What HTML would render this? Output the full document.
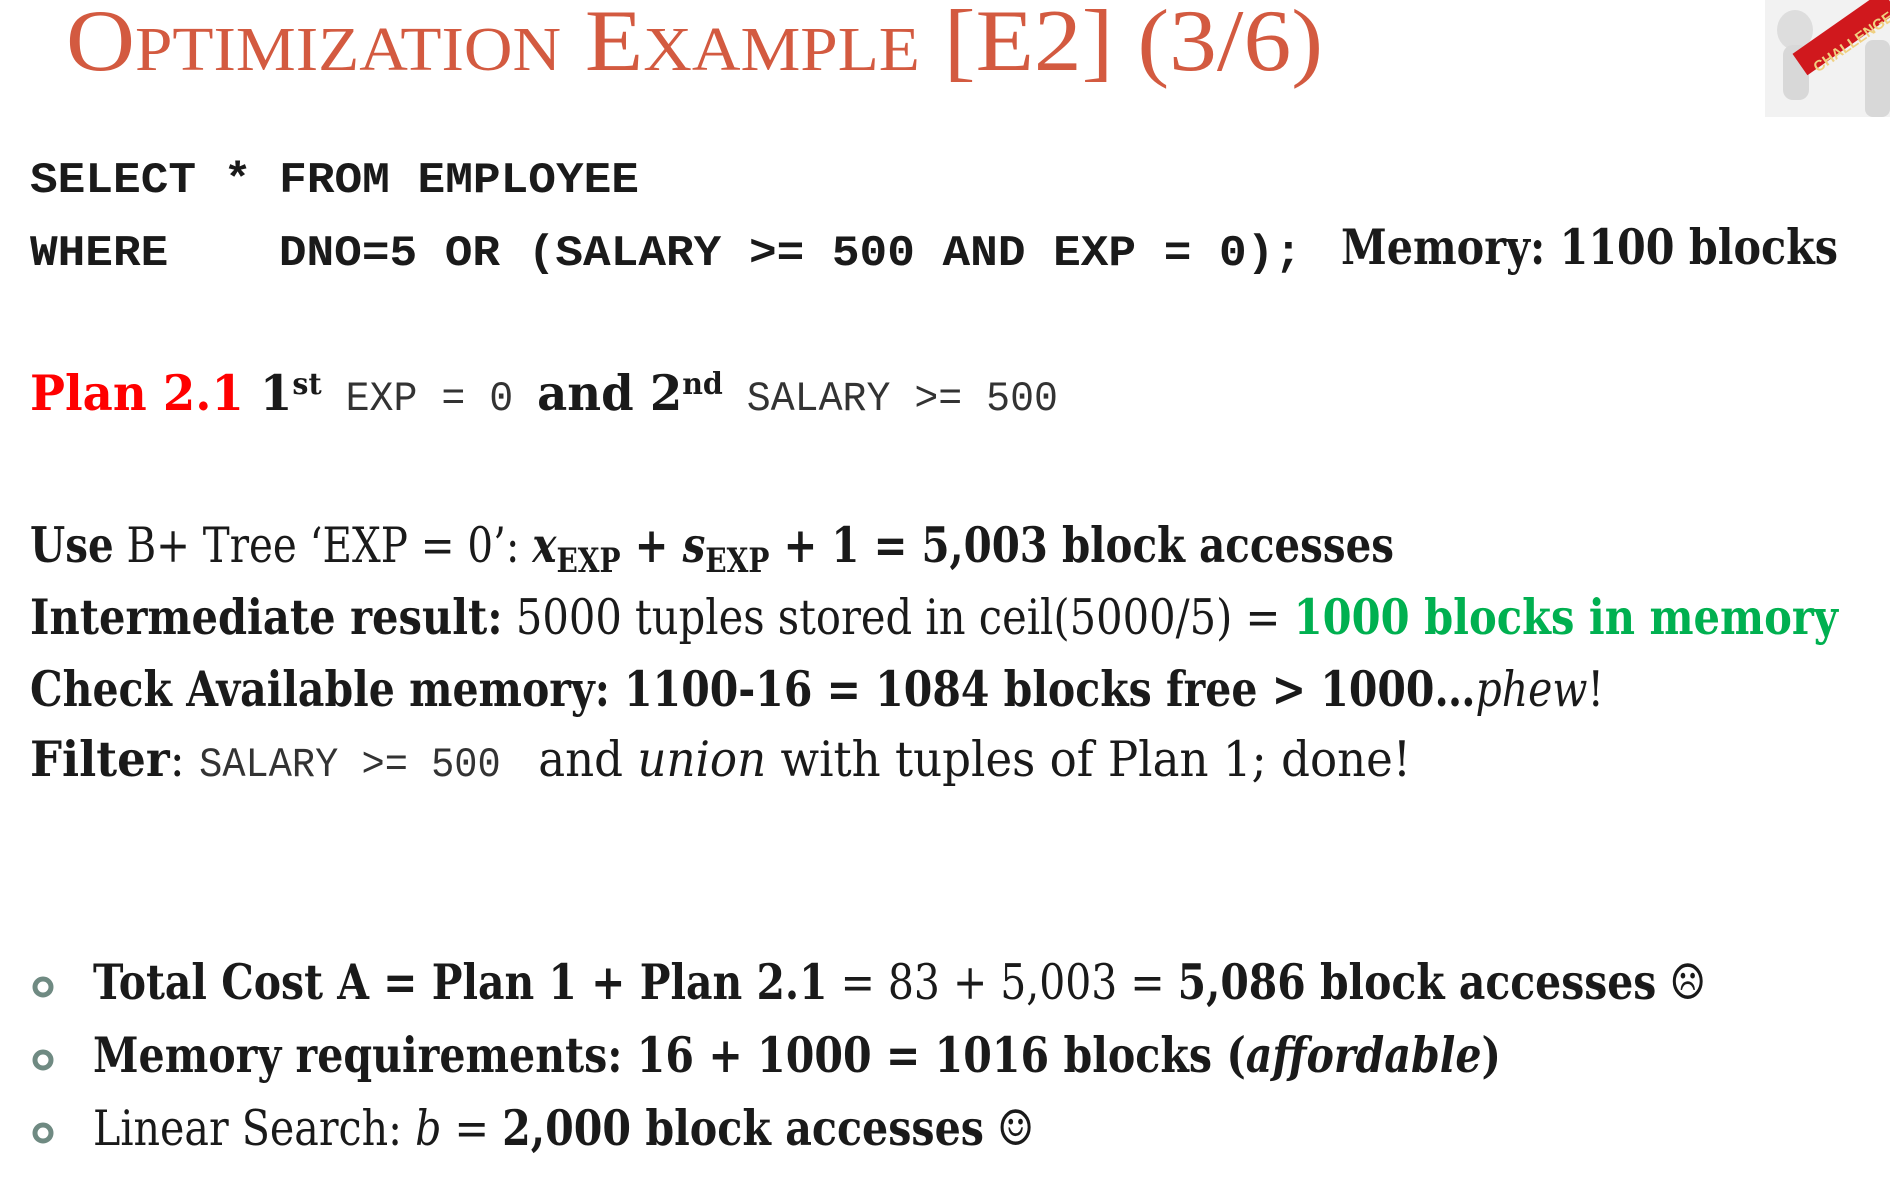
<!DOCTYPE html>
<html><head><meta charset="utf-8"><style>
html,body{margin:0;padding:0;background:#fff;}
svg{display:block;}
.s{font-family:"DejaVu Serif","Liberation Serif",serif;font-size:49px;fill:#1a1a1a;}
.m{font-family:"Liberation Mono","DejaVu Sans Mono",monospace;}
.b{font-weight:bold;}
.i{font-style:italic;}
</style></head><body>
<svg width="1890" height="1186" viewBox="0 0 1890 1186">
<text x="66" y="70" textLength="1257" lengthAdjust="spacingAndGlyphs" style="font-family:'Liberation Serif',serif;font-size:88px;font-variant:small-caps;fill:#d35a40;">Optimization Example [E2] (3/6)</text>
<g>
<rect x="1765" y="0" width="125" height="117" fill="#f2f2f2"/>
<ellipse cx="1795" cy="30" rx="18" ry="20" fill="#ddd"/>
<rect x="1783" y="45" width="26" height="55" rx="10" fill="#d8d8d8"/>
<rect x="1790" y="20" width="110" height="26" fill="#d0181d" transform="rotate(-35 1845 33)"/>
<text x="1800" y="50" transform="rotate(-35 1845 33)" style="font-family:'Liberation Sans',sans-serif;font-size:15px;font-weight:bold;fill:#f0d080;">CHALLENGE</text>
<rect x="1865" y="40" width="25" height="77" rx="8" fill="#d8d8d8"/>
</g>
<text class="m b" x="30" y="192" textLength="609" lengthAdjust="spacingAndGlyphs" style="font-size:44px;fill:#1a1a1a;" xml:space="preserve">SELECT * FROM EMPLOYEE</text>
<text class="m b" x="30" y="265" textLength="1272" lengthAdjust="spacingAndGlyphs" style="font-size:44px;fill:#1a1a1a;" xml:space="preserve">WHERE    DNO=5 OR (SALARY &gt;= 500 AND EXP = 0);</text>
<text class="s b" x="1341" y="264" textLength="497" lengthAdjust="spacingAndGlyphs">Memory: 1100 blocks</text>
<text class="s" x="30" y="410" textLength="1028" lengthAdjust="spacingAndGlyphs" xml:space="preserve"><tspan class="b" fill="#ff0000">Plan 2.1 </tspan><tspan class="b">1</tspan><tspan class="b" font-size="30" dy="-16">st</tspan><tspan class="m" font-size="42" dy="16" fill="#333"> EXP = 0 </tspan><tspan class="b">and 2</tspan><tspan class="b" font-size="30" dy="-16">nd</tspan><tspan class="m" font-size="42" dy="16" fill="#333"> SALARY &gt;= 500</tspan></text>
<text class="s" x="30" y="562" textLength="1364" lengthAdjust="spacingAndGlyphs"><tspan class="b">Use</tspan> B+ Tree ‘EXP = 0’: <tspan class="b i">x</tspan><tspan class="b" font-size="34" dy="10">EXP</tspan><tspan class="b" dy="-10"> + </tspan><tspan class="b i">s</tspan><tspan class="b" font-size="34" dy="10">EXP</tspan><tspan class="b" dy="-10"> + 1 = 5,003 block accesses</tspan></text>
<text class="s" x="30" y="634" textLength="1808" lengthAdjust="spacingAndGlyphs"><tspan class="b">Intermediate result:</tspan> 5000 tuples stored in ceil(5000/5) = <tspan class="b" fill="#00b050">1000 blocks in memory</tspan></text>
<text class="s" x="30" y="706" textLength="1574" lengthAdjust="spacingAndGlyphs"><tspan class="b">Check Available memory: 1100-16 = 1084 blocks free &gt; 1000…</tspan><tspan class="i">phew</tspan>!</text>
<text class="s" x="30" y="776" textLength="1381" lengthAdjust="spacingAndGlyphs" xml:space="preserve"><tspan class="b">Filter</tspan>: <tspan class="m" font-size="42" fill="#333">SALARY &gt;= 500 </tspan> and <tspan class="i">union</tspan> with tuples of Plan 1; done!</text>
<g>
<circle cx="43" cy="987" r="8" fill="none" stroke="#6f8a82" stroke-width="5"/>
<text class="s" x="93" y="999" textLength="1613" lengthAdjust="spacingAndGlyphs"><tspan class="b">Total Cost A = Plan 1 + Plan 2.1</tspan> = 83 + 5,003 = <tspan class="b">5,086 block accesses</tspan> ☹</text>
<circle cx="43" cy="1060" r="8" fill="none" stroke="#6f8a82" stroke-width="5"/>
<text class="s b" x="93" y="1072" textLength="1408" lengthAdjust="spacingAndGlyphs">Memory requirements: 16 + 1000 = 1016 blocks (<tspan class="i">affordable</tspan>)</text>
<circle cx="43" cy="1133" r="8" fill="none" stroke="#6f8a82" stroke-width="5"/>
<text class="s" x="93" y="1145" textLength="941" lengthAdjust="spacingAndGlyphs">Linear Search: <tspan class="i">b</tspan> = <tspan class="b">2,000 block accesses</tspan> ☺</text>
</g>
</svg>
</body></html>
